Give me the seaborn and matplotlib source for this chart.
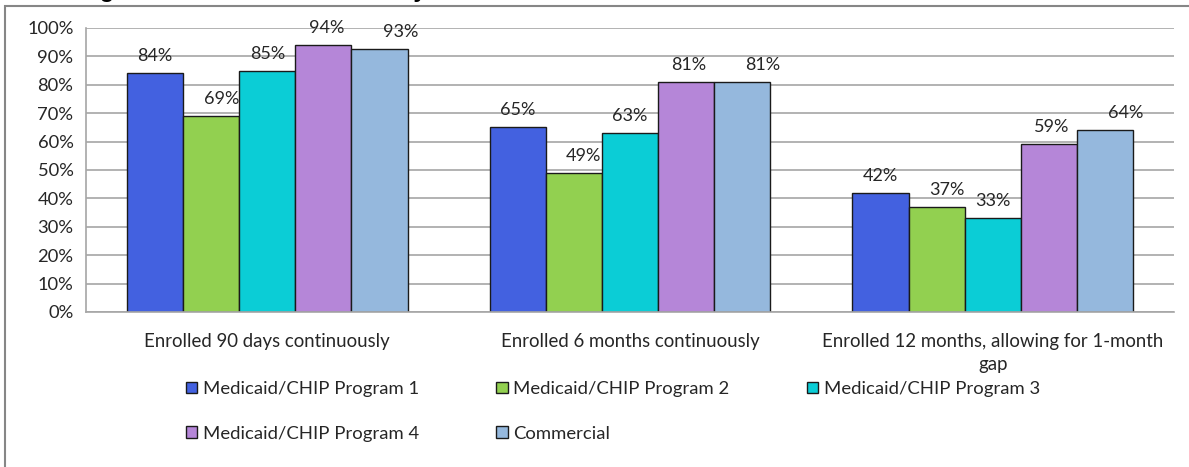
import pandas as pd
import numpy as np
import matplotlib
matplotlib.use("Agg")
import matplotlib.pyplot as plt
from matplotlib.patches import Rectangle
import seaborn as sns

# data
categories = ["Enrolled 90 days continuously",
              "Enrolled 6 months continuously",
              "Enrolled 12 months, allowing for 1-month\ngap"]
programs = ["Medicaid/CHIP Program 1", "Medicaid/CHIP Program 2",
            "Medicaid/CHIP Program 3", "Medicaid/CHIP Program 4", "Commercial"]
program_1 = [0.84, 0.65, 0.42]
program_2 = [0.69, 0.49, 0.37]
program_3 = [0.85, 0.63, 0.33]
program_4 = [0.94, 0.81, 0.59]
commercial = [0.925, 0.81, 0.64]
bar_labels = [["84%", "65%", "42%"], ["69%", "49%", "37%"], ["85%", "63%", "33%"],
              ["94%", "81%", "59%"], ["93%", "81%", "64%"]]
y_ticks = [0, 0.1, 0.2, 0.3, 0.4, 0.5, 0.6, 0.7, 0.8, 0.9, 1.0]
y_tick_labels = ["0%", "10%", "20%", "30%", "40%", "50%", "60%", "70%", "80%", "90%", "100%"]

colors = ["#4361E0", "#92D050", "#0BCDD6", "#B586D8", "#95B8DD"]
# label nudges (pixels), Excel-ish placement
label_dx = [0, 10, 0, 3, 21]

series = [program_1, program_2, program_3, program_4, commercial]
df = pd.DataFrame({
    "category": np.repeat([categories], len(programs), axis=0).ravel(),
    "program": np.repeat(programs, len(categories)),
    "value": np.concatenate(series),
})

sns.set_style("white")
plt.rcParams["font.family"] = ["Lato", "DejaVu Sans"]
text_col = "#262626"

fig = plt.figure(figsize=(11.89, 4.67), dpi=100)
W, H = 1189, 467
ax = fig.add_axes([86 / W, 1 - 312 / H, (1174 - 86) / W, (312 - 28) / H])

sns.barplot(data=df, x="category", y="value", hue="program", order=categories,
            hue_order=programs, palette=colors, width=0.773, gap=0,
            edgecolor="#1a1a1a", linewidth=1.0, saturation=1, ax=ax, legend=True)

for cont, labs, dx in zip(ax.containers, bar_labels, label_dx):
    for rect, lab in zip(cont, labs):
        ax.annotate(lab, (rect.get_x() + rect.get_width() / 2, rect.get_height()),
                    xytext=(dx, 9), textcoords="offset pixels",
                    ha="center", va="bottom", fontsize=13, color=text_col)

ax.set_ylim(0, 1)
ax.set_xlim(-0.5, 2.5)
ax.set_yticks(y_ticks)
ax.set_yticklabels(y_tick_labels)
ax.yaxis.grid(True, color="#A6A6A6", linewidth=1.2)
ax.set_axisbelow(True)
ax.set_xlabel("")
ax.set_ylabel("")
for s in ["top", "right"]:
    ax.spines[s].set_visible(False)
for s in ["left", "bottom"]:
    ax.spines[s].set_color("#A6A6A6")
    ax.spines[s].set_linewidth(1.2)
ax.tick_params(axis="y", length=5, color="#A6A6A6", width=1.2, labelsize=13.2, labelcolor=text_col, pad=4)
ax.tick_params(axis="x", which="major", length=0, labelsize=13.4, labelcolor=text_col, pad=15)
for t in ax.get_xticklabels():
    t.set_linespacing(1.45)
ax.set_xticks([-0.5, 0.5, 1.5, 2.5], minor=True)
ax.tick_params(axis="x", which="minor", length=6, color="#A6A6A6", width=1.2)

handles, labels = ax.get_legend_handles_labels()
ax.get_legend().remove()
order = [0, 3, 1, 4, 2]
fig.legend([handles[i] for i in order], [labels[i] for i in order],
           loc="upper left", bbox_to_anchor=(186 / W, 1 - 381 / H), ncol=3,
           frameon=False, fontsize=13.3, handlelength=0.6, handleheight=0.6,
           handletextpad=0.3, columnspacing=4.2, labelspacing=1.55, borderpad=0,
           borderaxespad=0, labelcolor=text_col)

# outer chart border (cut off on the right/bottom like the source)
fig.patches.append(Rectangle((5 / W, -0.1), 1.2, 1 - 6 / H + 0.1, transform=fig.transFigure,
                             fill=False, edgecolor="#868686", linewidth=1.5))

# title, mostly cut off at the top edge in the source
fig.text(0.0, 1 + 3 / H, "Percentage of Enrollees Continuously Enrolled in Medicaid/CHIP and Commercial Plans",
         ha="left", va="baseline", fontsize=17, fontweight="bold",
         family=["Liberation Sans", "DejaVu Sans"], color="black")

fig.savefig("out.png", dpi=100)
